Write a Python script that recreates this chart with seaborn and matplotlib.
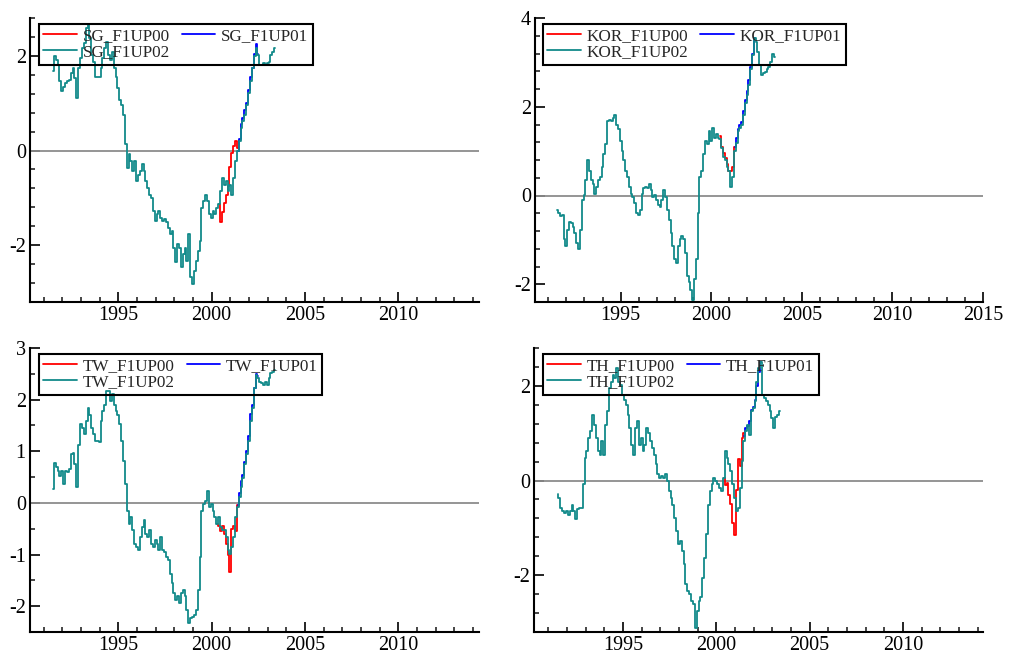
import numpy as np
import pandas as pd
import matplotlib.pyplot as plt
from matplotlib.ticker import MultipleLocator, FixedLocator
import seaborn as sns

# values read every 0.1 year, starting 1991.5
START = 1991.5

sg_02 = [1.67, 1.99, 1.92, 1.81, 1.46,
         1.25, 1.35, 1.42, 1.46, 1.49, 1.64, 1.74, 1.53, 1.11, 1.74,
         1.95, 2.16, 2.27, 2.58, 2.65, 2.37, 2.02, 1.88, 1.56, 1.56,
         1.56, 1.74, 1.95, 2.16, 2.30, 2.02, 1.92, 2.09, 1.74, 1.56,
         1.32, 1.07, 0.97, 0.76, 0.13, -0.36, -0.08, -0.22, -0.44, -0.22,
         -0.65, -0.51, -0.44, -0.29, -0.44, -0.65, -0.79, -0.93, -1.00, -1.28,
         -1.49, -1.35, -1.28, -1.42, -1.49, -1.45, -1.52, -1.63, -1.77, -1.70,
         -2.05, -2.36, -1.98, -2.05, -2.47, -2.19, -2.05, -2.33, -1.77, -2.68,
         -2.82, -2.54, -2.33, -2.12, -1.91, -1.21, -1.07, -0.93, -1.07, -1.35,
         -1.42, -1.28, -1.35, -1.21, -1.14, -0.86, -0.58, -0.72, -0.65, -0.86,
         -0.72, -0.93, -0.58, -0.22, -0.01, 0.20, 0.48, 0.62, 0.76, 0.97,
         1.21, 1.46, 1.74, 1.99, 2.16, 2.02, 1.81, 1.81, 1.84, 1.81,
         1.84, 1.88, 2.02, 2.09, 2.16]
sg_00_start, sg_00 = 2000.4, [-1.14, -1.52, -1.30, -1.10, -0.95, -0.75, -0.35, -0.05, 0.10, 0.20, 0.05]
sg_01_start, sg_01 = 2001.4, [-0.01, 0.25, 0.55, 0.68, 0.85, 1.00, 1.28, 1.55, 1.75, 2.05, 2.25, 2.05]

kor_02 = [-0.33, -0.40, -0.47, -0.44, -0.99,
          -1.14, -0.77, -0.59, -0.62, -0.70, -0.84, -1.07, -1.21, -0.77, -0.10,
          0.01, 0.34, 0.79, 0.56, 0.34, 0.27, 0.04, 0.19, 0.34, 0.41,
          0.64, 0.93, 1.16, 1.67, 1.71, 1.67, 1.75, 1.82, 1.60, 1.49,
          1.23, 1.01, 0.79, 0.56, 0.41, 0.19, 0.04, -0.03, -0.18, -0.40,
          -0.44, -0.33, 0.04, 0.16, 0.19, 0.16, 0.27, 0.12, -0.03, 0.01,
          -0.10, -0.21, -0.25, -0.10, 0.12, -0.03, -0.33, -0.55, -0.84, -1.14,
          -1.44, -1.51, -1.14, -0.99, -0.92, -0.99, -1.29, -1.81, -1.96, -2.14,
          -2.36, -1.88, -1.44, -0.40, 0.41, 0.56, 0.93, 1.23, 1.16, 1.45,
          1.23, 1.53, 1.30, 1.38, 1.30, 1.27, 1.08, 0.86, 0.79, 0.64,
          0.56, 0.19, 0.41, 1.01, 1.19, 1.45, 1.53, 1.60, 1.82, 2.08,
          2.27, 2.49, 2.86, 3.16, 3.56, 3.45, 3.23, 2.93, 2.71, 2.75,
          2.79, 2.86, 2.90, 3.01, 3.19, 3.12]
kor_00_start, kor_00 = 2000.5, [1.35, 1.10, 0.95, 0.85, 0.70, 0.55, 0.55, 0.65, 1.10]
kor_01_start, kor_01 = 2001.3, [1.10, 1.30, 1.50, 1.58, 1.65, 1.90, 2.15, 2.35, 2.60, 2.90, 3.20, 3.56]

tw_02 = [0.27, 0.78, 0.69, 0.62, 0.53,
         0.62, 0.37, 0.62, 0.59, 0.65, 0.94, 0.97, 0.75, 0.30, 1.13,
         1.52, 1.46, 1.33, 1.58, 1.84, 1.71, 1.46, 1.33, 1.20, 1.20,
         1.17, 1.58, 1.78, 1.90, 2.16, 2.16, 1.97, 2.10, 1.90, 1.78,
         1.71, 1.52, 1.20, 0.81, 0.37, -0.15, -0.40, -0.28, -0.53, -0.79,
         -0.85, -0.92, -0.66, -0.47, -0.34, -0.60, -0.66, -0.53, -0.79, -0.85,
         -0.72, -0.79, -0.92, -0.66, -0.92, -0.95, -1.04, -1.11, -1.37, -1.56,
         -1.75, -1.88, -1.81, -1.94, -1.75, -1.69, -1.81, -2.07, -2.33, -2.23,
         -2.20, -2.17, -2.07, -1.69, -1.04, -0.15, -0.02, 0.04, 0.24, -0.08,
         -0.02, -0.15, -0.28, -0.40, -0.28, -0.47, -0.53, -0.53, -0.66, -0.92,
         -0.98, -0.85, -0.66, -0.28, -0.08, 0.11, 0.30, 0.49, 0.75, 0.94,
         1.20, 1.58, 1.84, 2.22, 2.48, 2.42, 2.35, 2.32, 2.29, 2.35,
         2.29, 2.42, 2.51, 2.54, 2.58]
tw_00_start, tw_00 = 2000.3, [-0.40, -0.45, -0.55, -0.45, -0.60, -0.80, -1.00, -1.33, -0.50, -0.45, -0.55, -0.05]
tw_01_start, tw_01 = 2001.4, [-0.05, 0.20, 0.42, 0.55, 0.80, 1.00, 1.30, 1.72, 1.90, 2.22, 2.50, 2.45]

th_02 = [-0.29, -0.36, -0.58, -0.65, -0.68,
         -0.65, -0.72, -0.65, -0.51, -0.65, -0.82, -0.61, -0.58, -0.58, -0.08,
         0.48, 0.62, 0.90, 1.04, 1.39, 1.18, 0.90, 0.62, 0.55, 0.83,
         0.55, 1.18, 1.46, 1.95, 2.09, 2.23, 2.16, 2.37, 2.09, 2.02,
         1.81, 1.71, 1.60, 1.39, 1.11, 0.76, 0.55, 1.11, 1.25, 0.76,
         0.90, 0.62, 0.76, 1.11, 1.00, 0.83, 0.69, 0.55, 0.34, 0.13,
         0.06, 0.09, 0.06, 0.13, -0.01, -0.22, -0.36, -0.51, -0.79, -1.07,
         -1.35, -1.28, -1.49, -1.77, -2.19, -2.33, -2.40, -2.54, -2.61, -3.12,
         -2.75, -2.54, -2.47, -2.05, -1.63, -1.14, -0.51, -0.22, -0.08, 0.06,
         -0.01, -0.08, -0.15, -0.22, 0.06, 0.62, 0.48, 0.34, 0.20, -0.08,
         -0.36, -0.65, -0.58, -0.15, 0.41, 0.83, 1.04, 1.18, 0.97, 1.46,
         1.53, 1.67, 2.09, 2.37, 2.50, 1.81, 1.74, 1.67, 1.60, 1.46,
         1.32, 1.11, 1.35, 1.39, 1.46]
th_00_start, th_00 = 2000.4, [0.05, -0.10, -0.05, -0.30, -0.50, -0.90, -1.15, -0.20, 0.45, 0.30, 0.90, 1.00]
th_01_start, th_01 = 2001.5, [0.95, 1.10, 1.15, 1.25, 1.50, 1.55, 1.70, 2.00, 2.30, 2.50]

RED, BLUE, TEAL = "#ff0000", "#0000ff", "#128a8a"


def years(start, vals):
    return np.round(start + 0.1 * np.arange(len(vals)), 1)


panels = [
    # name, 00, 01, 02, axes rect (px), xlim, ylim, y majors, y minor step, legend box left px
    ("SG", (sg_00_start, sg_00), (sg_01_start, sg_01), (START, sg_02),
     (30, 18, 449, 284), (1990.27, 2014.32), (-3.2, 2.8), [-2, 0, 2], 0.4, 39),
    ("KOR", (kor_00_start, kor_00), (kor_01_start, kor_01), (START, kor_02),
     (535, 18, 448, 284), (1990.27, 2015.0), (-2.4, 4.0), [-2, 0, 2, 4], 0.4, 543),
    ("TW", (tw_00_start, tw_00), (tw_01_start, tw_01), (START, tw_02),
     (30, 348, 449, 284), (1990.27, 2014.32), (-2.5, 3.0), [-2, -1, 0, 1, 2, 3], 0.5, 39),
    ("TH", (th_00_start, th_00), (th_01_start, th_01), (START, th_02),
     (534, 348, 449, 284), (1990.24, 2014.28), (-3.2, 2.8), [-2, 0, 2], 0.4, 543),
]

sns.set_style("ticks")
plt.rcParams["font.family"] = ["Liberation Serif", "DejaVu Serif"]

W, H = 1010, 659
fig = plt.figure(figsize=(W / 100, H / 100), dpi=100)

for name, s00, s01, s02, (px, py, pw, ph), xlim, ylim, ymaj, ystep, leg_x in panels:
    ax = fig.add_axes([px / W, 1 - (py + ph) / H, pw / W, ph / H])
    ax.axhline(0, color="#8c8c8c", lw=1.3, zorder=1)

    for (start, vals), suffix, col, z in [(s00, "00", RED, 2), (s01, "01", BLUE, 2),
                                          (s02, "02", TEAL, 3)]:
        sns.lineplot(x=years(start, vals), y=np.array(vals), ax=ax, color=col,
                     lw=1.3, estimator=None, drawstyle="steps-mid",
                     label=f"{name}_F1UP{suffix}", zorder=z)

    ax.set_xlim(*xlim)
    ax.set_ylim(*ylim)
    xmaj = [y for y in [1995, 2000, 2005, 2010, 2015] if y <= xlim[1] + 1e-6]
    ax.xaxis.set_major_locator(FixedLocator(xmaj))
    ax.xaxis.set_minor_locator(MultipleLocator(1))
    ax.yaxis.set_major_locator(FixedLocator(ymaj))
    ax.yaxis.set_minor_locator(MultipleLocator(ystep))
    ax.set_xticklabels([str(y) for y in xmaj])
    ax.set_yticklabels([str(v) for v in ymaj])
    ax.set_xlabel("")
    ax.set_ylabel("")

    for side in ["top", "right"]:
        ax.spines[side].set_visible(False)
    for side in ["left", "bottom"]:
        ax.spines[side].set_linewidth(1.5)
        ax.spines[side].set_color("black")
    ax.tick_params(which="major", direction="in", length=7, width=1.2,
                   labelsize=14.5, colors="black", pad=3)
    ax.tick_params(which="minor", direction="in", length=3.5, width=1.2)

    h, l = ax.get_legend_handles_labels()
    order = [0, 2, 1]
    leg = ax.legend([h[i] for i in order], [l[i] for i in order], ncol=2,
                    loc="upper left", bbox_to_anchor=((leg_x - px) / pw, 1 - 6 / ph),
                    borderaxespad=0, frameon=True, fancybox=False, framealpha=1,
                    facecolor="none", edgecolor="black", fontsize=12.3,
                    handlelength=1.95, handletextpad=0.35, columnspacing=0.7,
                    labelspacing=0.0, borderpad=0.25)
    leg.get_frame().set_linewidth(1.5)

fig.savefig("out.png", dpi=100)
